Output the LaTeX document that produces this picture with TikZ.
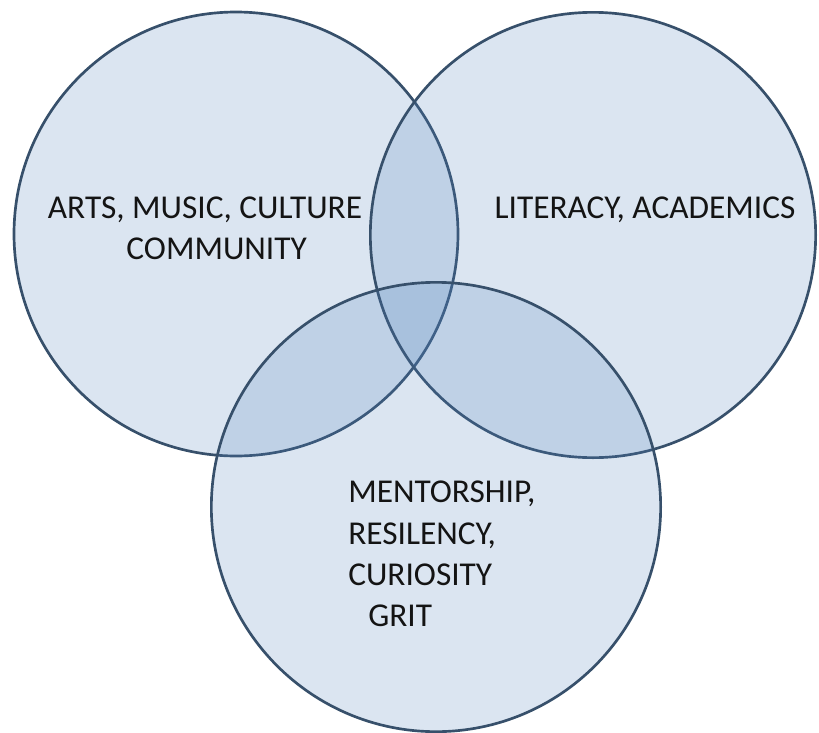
\documentclass[tikz,border=0pt]{standalone}
\usepackage{fontspec}
\setmainfont{Carlito}
\usepackage{tikz}
\usetikzlibrary{positioning}
\definecolor{vennline}{HTML}{37506B}
\definecolor{vennfill}{HTML}{4F81BD}

\begin{document}
\begin{tikzpicture}[
  x=0.75pt,y=-0.75pt,
  venn/.style={circle, draw=vennline, line width=2pt, fill=vennfill,
    fill opacity=0.2, draw opacity=1, inner sep=0pt},
  label/.style={font=\fontsize{25}{31}\selectfont, text=black!92, inner sep=0pt}
]
  \useasboundingbox[fill=white] (0,0) rectangle (819,733);

  \node[venn, minimum size=333pt] (arts) at (236,234) {};
  \node[venn, minimum size=334pt] (lit) at (593,235) {};
  \node[venn, minimum size=337pt] (ment) at (436,507) {};

  \node[label, align=center] (artstext) at (205,228)
    {ARTS, MUSIC, CULTURE\\\hspace*{0.7em}COMMUNITY};
  \node[label] (littext) at (645,210) {LITERACY, ACADEMICS};
  \node[label, align=left, anchor=north west] (menttext) at (348,481)
    {MENTORSHIP,\\RESILENCY,\\CURIOSITY\\\hspace*{0.6em}GRIT};
\end{tikzpicture}
\end{document}
